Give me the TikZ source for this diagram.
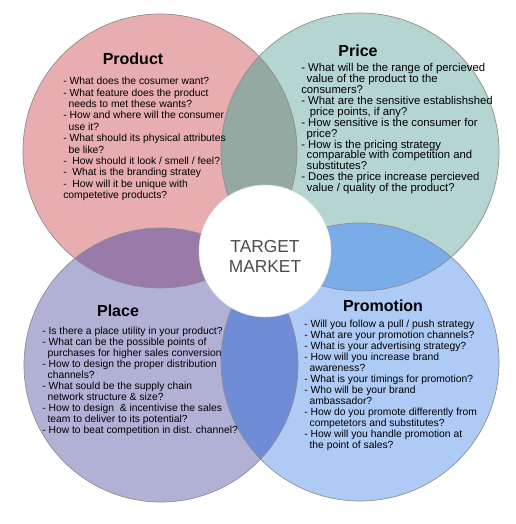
\documentclass[tikz,border=0pt]{standalone}
\usepackage{fontspec}
\setmainfont{Liberation Sans}
\usepackage{tikz}
\definecolor{prodcol}{HTML}{E8ADB0}
\definecolor{pricecol}{HTML}{B4D5D2}
\definecolor{placecol}{HTML}{B1B1D6}
\definecolor{promocol}{HTML}{AECBF6}
\definecolor{prodprice}{HTML}{94A9A2}
\definecolor{prodplace}{HTML}{9A7AA8}
\definecolor{placepromo}{HTML}{6F8CD6}
\definecolor{pricepromo}{HTML}{7AADE8}
\newcommand{\ind}{\hspace*{4pt}}

\begin{document}
\begin{tikzpicture}[x=0.75pt,y=-0.75pt,
    rim/.style={draw=black!45, line width=0.5pt},
    head/.style={font=\bfseries\fontsize{12}{14}\selectfont, anchor=base, inner sep=0pt},
    qlist/.style={font=\fontsize{7.75}{8.25}\selectfont, anchor=north west, align=left, inner sep=0pt}]
        \useasboundingbox (0,0) rectangle (516,524);
        \coordinate (cProd) at (160,151);
        \coordinate (cPrice) at (360,152);
        \coordinate (cPlace) at (161,365);
        \coordinate (cPromo) at (360,362);

        \fill[prodcol] (cProd) circle (137);
        \fill[pricecol] (cPrice) circle (139);
        \fill[placecol] (cPlace) circle (137);
        \fill[promocol] (cPromo) circle (139);

        \begin{scope}
          \clip (cProd) circle (137);
          \fill[prodprice] (cPrice) circle (139);
          \fill[prodplace] (cPlace) circle (137);
        \end{scope}
        \begin{scope}
          \clip (cPromo) circle (139);
          \fill[placepromo] (cPlace) circle (137);
          \fill[pricepromo] (cPrice) circle (139);
        \end{scope}

        \draw[rim] (cProd) circle (137) (cPrice) circle (139)
                   (cPlace) circle (137) (cPromo) circle (139);

        \node(target) at (265,251) [circle, fill=white, draw=black!12, minimum size=99pt] {};
        \node(tm) at (265,256) [align=center, text=black!70, font=\fontsize{13}{15}\selectfont] {TARGET\\MARKET};

        \node(hProd) at (133,65) [head] {Product};
        \node(hPrice) at (358,57) [head] {Price};
        \node(hPlace) at (118,316) [head] {Place};
        \node(hPromo) at (383,311) [head] {Promotion};

        \node(lProd) at (63,77) [qlist, font=\fontsize{7.75}{8.55}\selectfont] {- What does the cosumer want?\\
- What feature does the product\\
\ind needs to met these wants?\\
- How and where will the consumer\\
\ind use it?\\
- What should its physical attributes\\
\ind be like?\\
-\ \ How should it look / smell / feel?\\
-\ \ What is the branding stratey\\
-\ \ How will it be unique with\\
competetive products?};

        \node(lPrice) at (301,63) [qlist, font=\fontsize{8.5}{8.2}\selectfont] {- What will be the range of percieved\\
\ind value of the product to the\\
consumers?\\
- What are the sensitive establishshed\\
\ind\ price points, if any?\\
- How sensitive is the consumer for\\
\ind price?\\
- How is the pricing strategy\\
\ind comparable with competition and\\
\ind substitutes?\\
- Does the price increase percieved\\
\ind value / quality of the product?};

        \node(lPlace) at (42,327) [qlist] {- Is there a place utility in your product?\\
- What can be the possible points of\\
\ind purchases for higher sales conversion\\
- How to design the proper distribution\\
\ind channels?\\
- What sould be the supply chain\\
\ind network structure \& size?\\
- How to design \ \& incentivise the sales\\
\ind team to deliver to its potential?\\
- How to beat competition in dist. channel?};

        \node(lPromo) at (304,320) [qlist] {- Will you follow a pull / push strategy\\
- What are your promotion channels?\\
- What is your advertising strategy?\\
- How will you increase brand\\
\ind awareness?\\
- What is your timings for promotion?\\
- Who will be your brand\\
\ind ambassador?\\
- How do you promote differently from\\
\ind competetors and substitutes?\\
- How will you handle promotion at\\
\ind the point of sales?};
\end{tikzpicture}
\end{document}
